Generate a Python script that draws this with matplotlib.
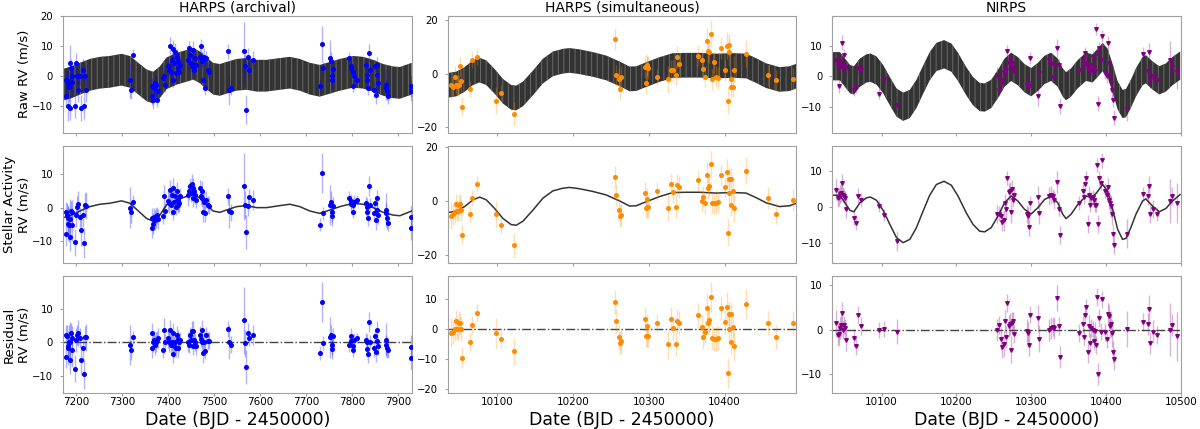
import matplotlib
matplotlib.use("Agg")
import matplotlib.pyplot as plt
import matplotlib.colors as mcolors
import numpy as np

# ---------------- HARPS (archival) ----------------
arch_t = [7177.5, 7179.0, 7180.4, 7181.9, 7183.3, 7184.8, 7186.2, 7187.7, 7189.1, 7190.6, 7192.0,
          7197.8, 7200.0, 7202.2, 7204.3, 7209.4, 7211.6, 7215.9, 7218.1, 7220.3, 7221.7,
          7317.4, 7318.8, 7324.6,
          7364.5, 7365.9, 7368.1, 7369.6, 7371.7, 7373.9, 7375.4, 7379.0, 7389.9, 7391.3, 7393.5,
          7400.7, 7402.9, 7404.3, 7405.8, 7408.0, 7410.1, 7411.6, 7413.0, 7415.2, 7417.4, 7418.8,
          7421.0, 7422.5, 7424.6, 7426.1,
          7444.2, 7446.4, 7447.8, 7449.3, 7451.4, 7453.6, 7455.1, 7456.5, 7458.7, 7460.9,
          7469.5, 7471.7, 7473.2, 7474.6, 7476.8, 7478.2, 7480.4, 7482.6, 7487.7, 7489.9,
          7529.7, 7533.3, 7536.2,
          7565.9, 7567.4, 7569.5, 7574.6, 7576.8, 7585.5,
          7730.4, 7734.0, 7737.7, 7752.2, 7754.3, 7755.8, 7757.2, 7759.4,
          7794.2, 7797.1, 7799.2, 7801.4, 7802.9, 7804.3, 7811.6,
          7830.4, 7831.9, 7833.3, 7835.5, 7837.7, 7839.1,
          7847.8, 7850.0, 7852.2, 7853.6, 7855.0, 7857.2,
          7873.9, 7875.3, 7876.8, 7878.9,
          7927.5, 7928.0]
arch_raw = [-6.9, -1.3, -1.6, -2.4, -10.2, -3.8, -10.8, 4.2, 2.6, -2.2, 0.0,
            -10.0, 4.2, 0.0, -4.7, 0.0, -10.8, 2.0, -10.0, 0.0, -4.7,
            -1.6, -4.7, 7.0,
            -6.9, -3.6, -8.0, -4.1, -2.4, -3.0, -8.0, -5.2, -0.8, -0.2, -3.0,
            3.1, 2.0, 9.8, 1.1, 5.3, -1.3, 8.9, 4.2, 7.8, 0.9, 6.4, 2.6, 4.8, 1.4, 3.7,
            5.3, 9.2, 7.0, 4.2, 3.1, 8.7, 3.7, 2.0, 5.9, 3.7,
            6.4, 9.8, 5.3, 4.8, -1.3, 6.4, -4.1, 5.9, 2.0, 1.4,
            8.1, -4.7, -4.1,
            8.1, 3.1, -11.3, 6.4, 2.0, 5.3,
            -3.6, 10.6, 2.6, 5.9, 4.8, -1.3, -0.2, 2.2,
            5.9, 2.6, 3.1, 1.4, -3.6, -0.2, -1.3,
            3.7, 0.3, -1.3, -4.1, 7.6, 2.0,
            -4.7, 3.1, -6.3, 0.3, 3.7, -2.4,
            -3.0, -4.1, -5.2, -6.9,
            -3.6, -5.0]
arch_act = [-7.7, -1.4, -2.2, -3.2, -4.7, -5.2, -8.7, -3.4, -1.0, -5.0, -1.2,
            -10.2, -2.2, 0.3, 1.0, -2.7, -6.7, -2.2, -10.4, 0.8, 0.6,
            0.0, -1.4, 1.8,
            -6.0, -3.2, -4.7, -2.7, -3.7, -3.0, -2.2, -3.4, -2.4, 3.3, -1.0,
            2.0, 1.3, 5.3, 0.8, 3.8, -1.2, 5.8, 1.8, 3.3, 0.3, 5.0, 0.8, 2.3, 1.3, 3.3,
            3.6, 4.8, 6.3, 4.3, 7.0, 5.8, 2.8, 4.8, 3.6, 2.3,
            5.8, 3.3, 2.8, 4.8, -1.2, 1.8, -1.7, 2.3, 0.8, 0.6,
            3.3, -1.0, -1.4,
            6.3, 0.8, -7.2, 0.6, 3.0, 2.3,
            -5.0, 10.3, -1.7, 0.8, 1.8, -2.4, -1.2, 0.6,
            2.8, 1.0, 2.0, 0.8, -1.2, 1.8, 2.3,
            1.3, 0.3, -1.2, -3.0, 6.3, 0.8,
            -1.7, 1.3, -3.7, -0.7, 2.8, -2.2,
            -0.7, -1.7, -3.2, -4.4,
            -2.9, -6.1]
arch_res = [-4.3, 2.0, 1.7, -1.3, -1.8, 0.0, -5.4, 0.0, 2.7, -2.3, 1.2,
            -7.9, 0.7, 2.2, 2.7, 1.2, -5.4, -1.8, -9.4, 1.4, 1.4,
            -0.8, -2.3, 1.4,
            -1.8, 2.7, 0.0, 0.7, -0.8, 0.0, 0.7, 1.2, -2.3, 3.7, 0.0,
            1.2, 0.0, 3.7, -0.8, 0.0, -3.6, 2.7, -1.3, 0.0, -1.8, 2.2, 1.0, -1.8, 0.0, 0.6,
            0.0, -0.8, 2.0, 0.7, 3.2, 3.2, -1.3, 0.7, 0.0, -1.3,
            2.2, 1.0, 0.0, 3.7, -3.3, 0.0, -2.6, 2.0, 0.4, 0.4,
            3.9, 0.0, -0.8,
            6.5, -0.3, -7.4, 2.7, 1.2, 2.2,
            -3.3, 12.0, -0.3, 1.4, 2.2, -2.0, -0.8, 1.7,
            -0.8, 1.7, 0.2, -1.3, -2.3, 0.7, 1.2,
            0.7, 0.0, -2.0, -3.6, 6.0, 0.0,
            -1.8, 1.7, -3.0, 0.4, 3.7, -1.3,
            0.7, -0.8, -1.8, -2.3,
            -1.5, -4.6]
arch_err = [3.5, 3.0, 3.5, 4.0, 5.0, 5.0, 4.0, 6.0, 3.0, 5.0, 3.5,
            4.0, 3.5, 3.0, 4.0, 3.0, 4.5, 3.5, 4.5, 3.5, 4.0,
            6.0, 3.0, 2.0,
            3.0, 3.0, 3.0, 2.5, 3.0, 3.0, 2.5, 3.0, 2.5, 3.5, 2.5,
            3.0, 3.0, 3.0, 3.0, 2.5, 2.5, 3.0, 3.0, 3.0, 2.5, 2.5, 2.5, 3.0, 2.5, 2.5,
            3.0, 2.5, 2.5, 2.5, 3.0, 3.0, 2.5, 2.5, 2.5, 2.5,
            2.5, 2.5, 2.5, 3.0, 3.0, 3.0, 2.5, 2.5, 2.5, 2.5,
            2.5, 5.0, 2.5,
            10.0, 4.0, 5.0, 3.0, 2.5, 3.0,
            2.0, 6.0, 2.0, 6.0, 3.0, 3.0, 3.0, 2.5,
            2.0, 2.5, 2.0, 2.0, 2.0, 2.0, 1.5,
            2.0, 2.5, 2.5, 2.5, 3.0, 2.0,
            2.5, 2.0, 3.0, 2.0, 2.5, 2.5,
            5.0, 3.0, 3.0, 2.5,
            3.5, 3.5]
arch_gp_t = [7172.5, 7190.6, 7208.7, 7230.4, 7252.2, 7273.9, 7299.3, 7317.4, 7339.1, 7353.6,
             7368.1, 7382.6, 7397.1, 7418.8, 7440.6, 7455.1, 7469.5, 7484.0, 7498.5, 7513.0,
             7527.5, 7549.3, 7571.0, 7592.7, 7614.5, 7643.5, 7665.2, 7686.9, 7708.7, 7730.4,
             7752.2, 7773.9, 7802.9, 7824.6, 7846.3, 7868.1, 7889.8, 7904.3, 7930.0]
arch_gp_v = [-3.0, -2.2, -1.0, 0.3, 1.0, 1.3, 2.0, 1.3, -1.4, -3.2,
             -4.0, -2.2, 0.8, 2.3, 3.3, 4.0, 2.8, 0.8, -1.0, -1.4,
             -0.7, 0.3, 0.6, 0.0, 0.0, 0.6, 1.0, 0.3, -1.0, -1.7,
             -0.7, 0.3, 1.3, 1.0, 0.0, -1.4, -2.2, -2.4, -1.0]

# ---------------- HARPS (simultaneous) ----------------
sim_t = [10039.3, 10041.5, 10043.7, 10045.0, 10046.8, 10048.1, 10049.4, 10050.3, 10051.6, 10053.4,
         10064.4, 10066.6, 10073.2,
         10098.7, 10104.4, 10122.0,
         10254.8, 10257.0, 10260.5, 10261.4, 10262.7,
         10294.4, 10295.7, 10297.0, 10297.9, 10299.2,
         10310.6,
         10325.6, 10328.7, 10331.8, 10335.3, 10337.5, 10339.7,
         10365.2, 10370.4, 10372.2, 10374.4, 10376.6, 10378.8, 10380.1, 10381.9, 10383.6, 10386.3,
         10388.9, 10391.6,
         10395.5, 10400.8, 10403.4, 10405.6, 10406.5, 10408.3, 10409.1, 10405.2, 10410.9, 10412.2,
         10428.5,
         10457.1, 10468.1, 10490.1]
sim_raw = [-4.4, -4.9, -1.2, -4.1, -4.7, -4.4, -4.4, 2.7, -2.8, -12.3,
           -5.9, 5.2, 6.2,
           -10.2, -7.2, -15.2,
           12.8, -0.7, -2.2, -5.9, -1.2,
           2.5, -3.5, 3.3, 2.7, 2.1,
           -1.2,
           -2.2, 1.2, 1.2, -0.4, 6.2, 3.7,
           6.7, 4.9, 1.7, -1.2, 12.3, 8.3, 7.9, 14.8, -2.2, 4.2, -1.2, -1.6,
           9.5, 1.2, 10.4, 7.9, 10.7, -4.9, -2.2, -10.2, -4.9, 1.5,
           7.4,
           -0.7, -2.5, -2.0]
sim_act = [-5.6, -5.1, -4.1, -1.2, -3.9, -3.9, -1.6, -1.4, -3.5, -12.6,
           -5.0, 1.1, 6.1,
           -5.0, -9.1, -16.6,
           8.8, 2.1, -3.5, -5.8, -5.4,
           2.8, -2.6, 0.5, -2.3, -2.3,
           3.4,
           -2.6, 6.1, 3.1, -2.3, 5.9, 5.0,
           7.5, -0.1, 1.5, -1.0, 9.4, 4.6, 5.6, 13.4, -1.0, -1.0, -1.0, -0.4,
           9.6, 4.9, 10.5, 3.0, 8.1, 8.1, -1.6, -11.9, 3.4, -2.9,
           11.1,
           0.9, -4.8, 0.3]
sim_res = [-1.1, -0.8, 0.1, 2.9, 0.0, 0.0, 2.0, 2.0, 0.0, -9.6,
           -4.2, 1.5, 5.3,
           -1.3, -3.4, -7.3,
           9.0, 2.8, -2.5, -4.7, -3.9,
           3.5, -2.1, 1.1, -2.1, -2.1,
           2.0,
           -5.1, 3.4, 0.3, -5.1, 2.6, 2.0,
           4.8, 0.9, -2.5, -0.8, 7.1, 2.0, 3.1, 10.9, -3.0, -3.3, -3.3, -2.8,
           7.1, 2.4, 7.6, 0.1, 5.1, 5.1, -4.4, -14.5, 0.6, -5.5,
           8.4,
           2.0, -2.5, 2.2]
sim_err = [5.0, 4.0, 4.0, 3.5, 3.5, 3.5, 4.0, 3.5, 4.0, 3.5,
           3.0, 3.0, 3.0,
           5.0, 3.0, 4.5,
           4.0, 4.0, 4.0, 4.0, 4.0,
           4.0, 4.0, 4.0, 4.0, 4.0,
           3.0,
           5.0, 4.0, 4.0, 4.0, 4.0, 4.0,
           4.0, 4.0, 4.0, 4.0, 5.0, 4.0, 4.0, 5.0, 4.0, 4.0, 4.0, 4.0,
           4.0, 4.0, 5.0, 5.0, 4.0, 4.0, 4.0, 5.0, 4.0, 5.0,
           5.0,
           4.0, 4.0, 4.0]
sim_gp_t = [10034.9, 10045.9, 10056.9, 10067.9, 10076.7, 10085.5, 10096.5, 10107.5, 10118.5, 10125.1,
            10133.9, 10147.1, 10160.2, 10173.4, 10186.6, 10195.4, 10208.6, 10226.2, 10243.8, 10261.4,
            10274.6, 10283.4, 10296.6, 10314.2, 10331.7, 10349.3, 10366.9, 10388.9, 10410.9, 10428.5,
            10441.7, 10454.9, 10472.5, 10485.7, 10494.5]
sim_gp_v = [-4.4, -3.9, -2.2, 0.3, 1.3, 0.3, -2.9, -6.6, -8.9, -9.1,
            -7.6, -3.5, 0.9, 3.6, 4.6, 4.9, 4.4, 3.4, 2.1, -0.1,
            -2.0, -1.9, -0.4, 1.5, 3.0, 3.1, 3.1, 2.8, 3.0, 2.8,
            1.1, -0.8, -2.2, -1.9, -1.0]

# ---------------- NIRPS ----------------
nir_t = [10038.7, 10041.3, 10043.1, 10044.4, 10046.2, 10047.6, 10048.9, 10050.2, 10051.6, 10052.4,
         10063.6, 10065.8, 10068.9, 10072.4,
         10096.9, 10103.6, 10121.3,
         10254.2, 10256.4, 10260.0, 10261.3, 10263.1, 10264.4, 10265.8, 10267.6, 10269.8, 10272.0,
         10272.9, 10274.2, 10275.6, 10276.4,
         10294.2, 10295.6, 10296.9, 10298.2,
         10308.9, 10310.2,
         10324.4, 10326.7, 10328.9, 10331.1, 10334.7, 10336.9, 10338.7,
         10364.4, 10369.8, 10371.1, 10372.0, 10373.3, 10376.0, 10377.8, 10379.1, 10380.4, 10382.2,
         10383.6, 10384.9, 10386.7, 10388.0, 10389.8, 10391.1, 10393.3, 10395.1,
         10399.1, 10401.3, 10403.1, 10404.4, 10405.8, 10407.1, 10408.4, 10409.8, 10411.1,
         10428.0,
         10448.9, 10455.6, 10457.8, 10459.1, 10462.2, 10468.0,
         10485.8, 10488.9, 10494.7]
nir_raw = [5.4, 3.8, -3.0, 3.2, 4.9, 11.0, 3.8, 7.0, 3.2, 2.7,
           -4.3, -3.5, 2.7, 2.2,
           -5.6, -0.9, -9.2,
           0.5, -4.3, -2.2, -1.1, 1.3, 1.6, 2.2, 8.1, 4.3, 5.4, 3.8, 4.5, 2.7, 1.9,
           -2.7, -2.2, -3.2, 5.9,
           -6.5, 1.1,
           5.2, 4.5, -0.2, 3.8, 9.2, 3.8, -9.7,
           2.2, 5.6, 4.1, 7.6, 4.5, 3.2, 1.6, 3.8, 2.2, 6.3, 3.2, 1.6, 15.4, 7.6, -8.9, 9.2, 5.2, 13.2,
           1.1, 0.0, 10.8, 4.3, 0.5, -2.2, -4.3, -7.6, -13.5,
           -10.6,
           7.4, 1.6, 7.8, -1.3, 0.2, -1.1,
           5.4, 3.2, 1.3]
nir_act = [4.9, 2.4, 2.8, 3.7, 4.0, 6.8, 3.5, 3.1, 2.6, -0.6,
           -3.0, -4.3, 3.2, 1.9,
           0.3, -2.2, -9.4,
           -2.0, -1.8, -2.5, -4.1, -3.7, 1.2, -0.6, 8.1, 4.3, 4.4, -1.3, 5.1, 2.1, 3.5,
           -2.0, -2.5, -5.6, 1.2,
           2.8, -1.6,
           3.1, 3.3, 3.1, 2.1, 7.0, -0.4, -7.8,
           1.2, 4.4, 2.8, 6.3, 8.1, -4.6, 3.3, 0.7, 2.6, 2.8, 2.1, 0.7, 0.7, 11.7, -4.6, 8.0, 6.8, 13.0,
           4.6, 3.5, 5.6, 1.9, 1.2, 0.3, -2.0, -7.4, -10.6,
           -7.4,
           3.7, 3.1, 5.8, -2.0, -0.6, -2.0,
           1.7, 3.1, 1.2]
nir_res = [1.4, -1.1, -1.0, 0.4, 1.0, 3.8, 0.0, 1.0, 0.4, -2.3,
           -1.9, -3.6, 3.4, 0.9,
           0.0, 0.2, -0.4,
           0.0, 1.0, -2.0, -3.8, -3.2, 2.0, -1.7, 6.0, 0.8, 1.3, -4.5, 1.5, 1.9, -0.9,
           -0.2, -0.8, -3.4, 3.4,
           2.6, -2.0,
           0.0, 0.4, 0.7, 0.4, 7.1, 0.8, -6.1,
           -0.8, 1.3, -1.7, 3.2, 5.0, -4.9, 0.8, -3.0, 0.4, 0.0, -2.5, -0.2, -3.4, 7.3, -9.9, 2.6, -0.4, 6.8,
           -0.5, -2.0, 3.5, 3.0, 0.8, 1.3, -0.8, -5.0, -6.6,
           0.2,
           1.7, 1.3, 4.7, -3.0, -0.4, -1.1,
           0.0, 1.1, -1.5]
nir_err = [3.0, 2.5, 2.5, 2.5, 2.5, 2.5, 2.0, 2.0, 2.0, 2.5,
           2.0, 2.0, 2.0, 2.0,
           1.8, 1.8, 2.8,
           2.5, 2.0, 2.5, 2.5, 3.0, 2.5, 2.5, 2.0, 2.5, 2.5, 3.0, 2.5, 2.0, 2.0,
           2.5, 2.5, 2.5, 2.0,
           3.0, 3.0,
           2.5, 2.5, 2.0, 2.5, 3.0, 2.0, 2.5,
           2.0, 2.0, 2.0, 2.0, 2.0, 2.5, 2.5, 2.0, 2.0, 2.0, 2.0, 2.0, 2.0, 2.0, 2.5, 2.0, 2.0, 2.0,
           2.0, 2.0, 2.5, 2.5, 2.5, 3.0, 3.0, 2.5, 2.5,
           4.0,
           2.0, 2.5, 3.0, 2.5, 2.5, 2.0,
           6.0, 2.5, 5.5]
nir_gp_t = [10034.2, 10044.4, 10051.1, 10057.8, 10063.1, 10071.1, 10080.0, 10085.3, 10093.3, 10102.2,
            10111.1, 10120.0, 10128.9, 10137.8, 10146.7, 10155.6, 10164.4, 10173.3, 10183.6, 10193.3,
            10202.2, 10213.3, 10222.2, 10231.1, 10237.8, 10246.7, 10255.6, 10264.4, 10273.3, 10282.2,
            10291.1, 10300.0, 10308.9, 10317.8, 10326.7, 10335.6, 10342.2, 10346.7, 10353.3, 10362.2,
            10373.3, 10382.2, 10388.9, 10395.6, 10402.2, 10408.9, 10415.6, 10422.2, 10426.7, 10433.3,
            10440.0, 10448.9, 10453.3, 10462.2, 10471.1, 10480.0, 10488.9, 10499.1]
nir_gp_v = [3.3, 3.3, 1.2, -0.9, -1.3, 1.2, 2.6, 2.8, 1.9, -0.9,
            -4.8, -8.5, -9.9, -9.0, -5.7, -1.1, 3.3, 6.3, 7.2, 6.1,
            3.1, -1.6, -4.8, -6.7, -6.9, -5.7, -2.5, 1.2, 3.1, 1.7,
            -0.6, -1.9, -0.2, 2.1, 3.1, 1.2, -2.0, -3.2, -2.0, 0.7,
            3.1, 2.6, 4.4, 6.3, 4.4, -0.6, -6.2, -9.0, -8.7, -5.7,
            -2.0, 1.7, 2.3, 0.3, -1.3, -0.4, 1.7, 3.5]

# half-width (m/s) of the dark planet+activity model band in the raw panels, per instrument
raw_band_halfwidth = [5.3, 4.6, 4.6]

titles = ["HARPS (archival)", "HARPS (simultaneous)", "NIRPS"]
row_labels = ["Raw RV (m/s)", "Stellar Activity\nRV (m/s)", "Residual\nRV (m/s)"]

columns = [
    dict(t=arch_t, raw=arch_raw, act=arch_act, res=arch_res, err=arch_err,
         gp_t=arch_gp_t, gp_v=arch_gp_v, color="#0000ff", marker="o",
         xlim=(7172, 7930), xticks=[7200, 7300, 7400, 7500, 7600, 7700, 7800, 7900],
         ylims=[(-19, 20), (-16.3, 18.2), (-15.2, 19.7)],
         yticks=[[-10, 0, 10, 20], [-10, 0, 10], [-10, 0, 10]]),
    dict(t=sim_t, raw=sim_raw, act=sim_act, res=sim_res, err=sim_err,
         gp_t=sim_gp_t, gp_v=sim_gp_v, color="#ff8c00", marker="o",
         xlim=(10034.4, 10494.6), xticks=[10100, 10200, 10300, 10400],
         ylims=[(-22, 21.5), (-23, 20.2), (-21.3, 17.7)],
         yticks=[[-20, 0, 20], [-20, 0, 20], [-20, -10, 0, 10]]),
    dict(t=nir_t, raw=nir_raw, act=nir_act, res=nir_res, err=nir_err,
         gp_t=nir_gp_t, gp_v=nir_gp_v, color="#800080", marker="v",
         xlim=(10034, 10500), xticks=[10100, 10200, 10300, 10400, 10500],
         ylims=[(-18.3, 19.7), (-15.5, 17), (-14.2, 12)],
         yticks=[[-10, 0, 10], [-10, 0, 10], [-10, 0, 10]]),
]

plt.rcParams["hatch.linewidth"] = 0.7

fig, axes = plt.subplots(3, 3, figsize=(12, 4.29), dpi=100)
plt.subplots_adjust(left=0.0525, right=0.984, bottom=0.084, top=0.963,
                    wspace=0.103, hspace=0.116)

spine_color = "#a0a0a0"

for j, col in enumerate(columns):
    c = col["color"]
    ecol = mcolors.to_rgba(c, 0.3)
    gp_t = np.array(col["gp_t"])
    gp_v = np.array(col["gp_v"])
    hw = raw_band_halfwidth[j]
    for i in range(3):
        ax = axes[i, j]
        if i == 0:
            ax.fill_between(gp_t, gp_v - hw, gp_v + hw,
                            facecolor="#333333", edgecolor="#6a6a6a", hatch="|||",
                            linewidth=0, zorder=1)
            y = col["raw"]
        elif i == 1:
            ax.plot(gp_t, gp_v, color="#333333", lw=1.1, zorder=2)
            y = col["act"]
        else:
            ax.axhline(0, color="#444444", lw=1.0, ls="-.", zorder=2)
            y = col["res"]
        ax.errorbar(col["t"], y, yerr=col["err"], fmt=col["marker"], color=c, ms=2.6,
                    ecolor=ecol, elinewidth=1.0, capsize=0, zorder=3)
        ax.set_xlim(*col["xlim"])
        ax.set_ylim(*col["ylims"][i])
        ax.set_xticks(col["xticks"])
        ax.set_yticks(col["yticks"][i])
        ax.tick_params(axis="y", labelsize=7.2, color=spine_color, length=2.2, pad=5.0)
        ax.tick_params(axis="x", labelsize=7.5, color=spine_color, length=2.0, pad=1.2)
        for s in ax.spines.values():
            s.set_color(spine_color)
        if i < 2:
            ax.set_xticklabels([])
        else:
            ax.set_xlabel("Date (BJD - 2450000)", fontsize=12.5, labelpad=2.5)
        if j == 0:
            ax.set_ylabel(row_labels[i], fontsize=9.5, linespacing=1.12)
            ax.yaxis.set_label_coords(-0.094, 0.5)
        if i == 0:
            ax.set_title(titles[j], fontsize=10, pad=3)

fig.savefig("out.png", dpi=100)
